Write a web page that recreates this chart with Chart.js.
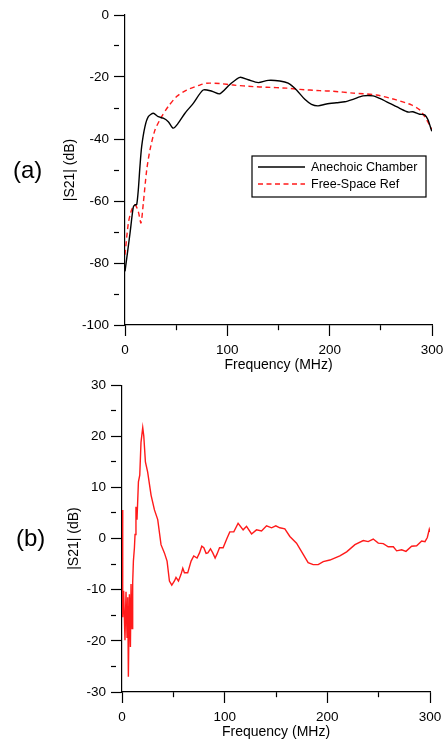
<!DOCTYPE html>
<html>
<head>
<meta charset="utf-8">
<script src="https://cdn.jsdelivr.net/npm/chart.js@4/dist/chart.umd.min.js"></script>
<style>
    body { margin: 0; background: #fff; overflow: hidden; }
    #wrap { position: relative; width: 445px; height: 739px; font-family: "Liberation Sans", Arial, sans-serif; }
    canvas { position: absolute; left: 0; }
    .panel { position: absolute; font-size: 24px; line-height: 28px; color: #000; }
</style>
</head>
<body>
<div id="wrap">
    <canvas id="chartA" width="445" height="372" style="top:0"></canvas>
    <canvas id="chartB" width="445" height="367" style="top:372px"></canvas>
    <div class="panel" style="left:13px; top:156px;">(a)</div>
    <div class="panel" style="left:16px; top:524px;">(b)</div>
</div>
<script>
// (a) measured |S21| in the anechoic chamber vs free-space reference
const anechoicFreq = [0, 4.9, 8.1, 9.8, 11.4, 13, 14.6, 16.3, 19.5, 22.8, 27.7, 32.5, 37.4, 42.3, 47.2, 52, 58.6, 66.7, 76.4, 85, 92.7, 102.5, 112.3, 120.4, 130.2, 139.9, 151.3, 159.4, 167.6, 175.7, 182.2, 188.7, 196.8, 206.6, 214.8, 222.9, 232.6, 242.4, 248.9, 258.7, 268.4, 276.6, 281.4, 288, 292.9, 296.1, 299.4, 300];
const anechoicDb = [-82.7, -70.4, -62, -61.2, -61.2, -56.4, -48.9, -42.4, -36, -32.8, -31.7, -32.8, -33.3, -34.4, -36.5, -34.9, -31.7, -28.5, -24.2, -24.6, -25.4, -22.4, -20.1, -20.9, -21.8, -21.1, -21.3, -22, -24.2, -27.2, -28.8, -29.3, -28.7, -28.3, -28, -27.2, -26.1, -26.1, -26.9, -28.5, -30.1, -31.3, -31.2, -32, -32.2, -33.8, -37.1, -37.5];

const refFreq = [0, 3.3, 6.5, 9.8, 13, 15.6, 17.9, 21.2, 24.4, 29.3, 35.8, 42.3, 50.4, 60.2, 73.2, 79.7, 92.7, 105.8, 125.2, 138.3, 157.8, 170.8, 190.4, 203.4, 222.9, 245.7, 265.2, 279.9, 288, 292.9, 297.7, 300];
const refDb = [-77.3, -67.1, -62.8, -61.2, -63.4, -67.1, -60.7, -50, -43.5, -37.1, -32.8, -29.5, -26.3, -24.2, -22.6, -22, -22.1, -22.6, -23.1, -23.3, -23.6, -24, -24.4, -24.6, -25.2, -25.8, -27.4, -29, -30.6, -32.8, -35.5, -37];

// (b) difference trace
const diffFreq = [0, 0.7, 1.6, 2.9, 3.9, 4.9, 5.6, 6.2, 7.2, 8.2, 8.8, 9.8, 10.4, 11.1, 12.1, 12.7, 13.6, 14.6, 16, 17.3, 18.5, 20.2, 21.2, 22.8, 25, 28.3, 31.6, 34.8, 38, 41.3, 43.9, 46.2, 48.5, 51.1, 52.6, 55, 57.5, 59.2, 60.8, 64, 67.3, 69.9, 73.1, 75.5, 77.7, 79.7, 81.9, 83.6, 86.2, 88.4, 90.7, 92.6, 95, 98.5, 102.4, 105, 108.9, 113.1, 118, 121.3, 126.2, 131, 135.9, 140.8, 145.7, 149.8, 153.7, 158.6, 163.5, 170, 176.5, 181.3, 186.2, 191.1, 196, 202.5, 212.2, 218.8, 226.9, 235, 239.8, 244.7, 249.6, 254.5, 259.3, 264.3, 267.5, 272.4, 276.6, 282.1, 287, 291.9, 295.1, 297.4, 299.3, 300];
const diffDb = [5.6, -15.4, -10.2, -19.9, -10.4, -19.3, -11.5, -27, -10.9, -21.2, -8.9, -17.6, -8.6, -4.4, -1.8, 0.8, 6.2, 3.7, 11.1, 12.4, 18.8, 21.7, 20.1, 15, 13, 8.5, 5.6, 3.7, -1.2, -2.8, -4.4, -8.3, -9.1, -8.3, -7.6, -8.3, -7, -5.8, -6.7, -6.7, -4.4, -3.4, -3.8, -2.8, -1.5, -1.8, -2.9, -2.8, -2, -2.8, -3.8, -3, -1.8, -1.8, 0.1, 1.3, 1.3, 3, 1.7, 2.4, 0.9, 1.7, 1.5, 2.5, 2.1, 2.5, 2.1, 1.9, 0.4, -0.9, -3.1, -4.7, -5.1, -5.1, -4.5, -4.2, -3.4, -2.6, -1.2, -0.4, -0.6, -0.1, -0.9, -1, -1.6, -1.6, -2.4, -2.2, -2.5, -1.5, -1.4, -0.5, -0.6, 0.2, 1.8, 1.3];

const FONT = '"Liberation Sans", Arial, sans-serif';

function toPoints(xs, ys) {
    return xs.map((x, i) => ({ x: x, y: ys[i] }));
}

// major ticks get full length, minor ones only a short dash next to the axis
function axisGrid(majorEvery) {
    return {
        drawOnChartArea: false,
        drawTicks: true,
        tickLength: 11,
        tickColor: '#000',
        tickWidth: 1.2,
        tickBorderDash: ctx => (ctx.tick && Math.round(ctx.tick.value) % majorEvery !== 0) ? [5, 40] : []
    };
}

function buildScales(cfg) {
    return {
        x: {
            type: 'linear',
            min: 0,
            max: 300,
            border: { color: '#000', width: 1.2 },
            grid: axisGrid(100),
            ticks: {
                stepSize: 50,
                padding: 6,
                color: '#000',
                font: { family: FONT, size: 13.5 },
                maxRotation: 0,
                callback: v => (v % 100 === 0 ? v : '')
            },
            title: {
                display: true,
                text: 'Frequency (MHz)',
                color: '#000',
                font: { family: FONT, size: 14 },
                padding: { top: 0, bottom: -2 }
            },
            afterFit: s => {
                s.height = 47;
                s.paddingLeft = 0;
                s.paddingRight = 0;
            }
        },
        y: {
            type: 'linear',
            min: cfg.yMin,
            max: cfg.yMax,
            border: { color: '#000', width: 1.2 },
            grid: axisGrid(cfg.yMajor),
            ticks: {
                stepSize: cfg.yMajor / 2,
                padding: 5,
                color: '#000',
                font: { family: FONT, size: 13.5 },
                callback: v => (Math.round(v) % cfg.yMajor === 0 ? v : '')
            },
            title: {
                display: true,
                text: '|S21| (dB)',
                color: '#000',
                font: { family: FONT, size: 14 },
                padding: { top: cfg.titleGap, bottom: 0 }
            },
            afterFit: s => { s.width = cfg.yWidth; }
        }
    };
}

// legend box sitting inside the plot area of (a)
const insideLegend = {
    id: 'insideLegend',
    afterDraw(chart, args, opts) {
        if (!opts.show) return;
        const { ctx, chartArea } = chart;
        const left = chartArea.left + 127;
        const top = chartArea.top + 141;
        ctx.save();
        ctx.strokeStyle = '#000';
        ctx.lineWidth = 1.2;
        ctx.strokeRect(left, top, 174, 41);
        ctx.font = '12.5px ' + FONT;
        ctx.fillStyle = '#000';
        ctx.textBaseline = 'middle';
        chart.data.datasets.forEach((ds, i) => {
            const y = top + 11 + i * 17;
            ctx.beginPath();
            ctx.setLineDash(ds.borderDash || []);
            ctx.strokeStyle = ds.borderColor;
            ctx.lineWidth = ds.borderWidth;
            ctx.moveTo(left + 6, y);
            ctx.lineTo(left + 53, y);
            ctx.stroke();
            ctx.setLineDash([]);
            ctx.fillText(ds.label, left + 59, y + 0.5);
        });
        ctx.restore();
    }
};

new Chart(document.getElementById('chartA').getContext('2d'), {
    type: 'line',
    data: {
        datasets: [{
            label: 'Anechoic Chamber',
            data: toPoints(anechoicFreq, anechoicDb),
            borderColor: '#000',
            borderWidth: 1.4,
            pointRadius: 0,
            tension: 0.25
        }, {
            label: 'Free-Space Ref',
            data: toPoints(refFreq, refDb),
            borderColor: '#ff1a1a',
            borderWidth: 1.4,
            borderDash: [5, 3.5],
            pointRadius: 0,
            tension: 0.25
        }]
    },
    options: {
        responsive: false,
        animation: false,
        layout: { padding: { top: 15, right: 13, left: 0, bottom: 0 } },
        scales: buildScales({ yMin: -100, yMax: 0, yMajor: 20, yWidth: 125, titleGap: 62 }),
        plugins: {
            legend: { display: false },
            tooltip: { enabled: false },
            insideLegend: { show: true }
        }
    },
    plugins: [insideLegend]
});

new Chart(document.getElementById('chartB').getContext('2d'), {
    type: 'line',
    data: {
        datasets: [{
            label: 'Difference',
            data: toPoints(diffFreq, diffDb),
            borderColor: '#ff1a1a',
            borderWidth: 1.4,
            pointRadius: 0,
            tension: 0
        }]
    },
    options: {
        responsive: false,
        animation: false,
        layout: { padding: { top: 10, right: 15, left: 0, bottom: 0 } },
        scales: buildScales({ yMin: -30, yMax: 30, yMajor: 10, yWidth: 122, titleGap: 66 }),
        plugins: {
            legend: { display: false },
            tooltip: { enabled: false }
        }
    }
});
</script>
</body>
</html>
